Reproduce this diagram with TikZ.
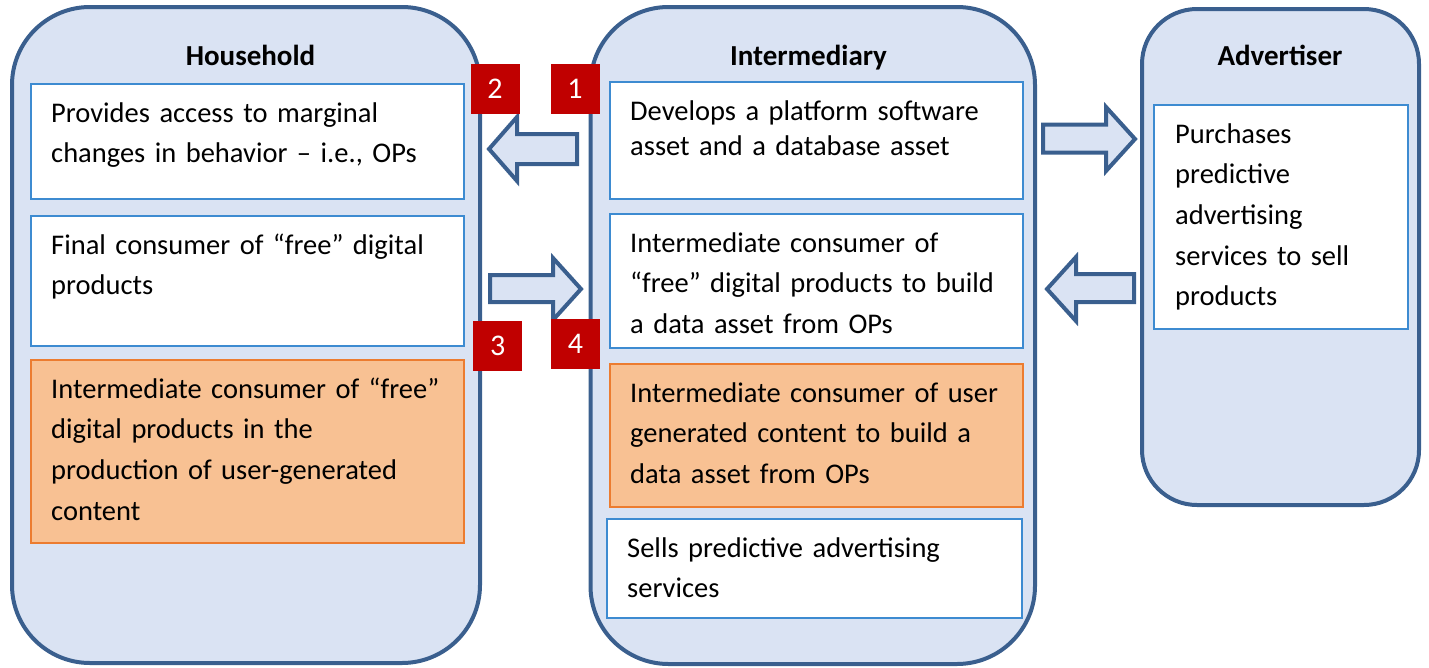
\documentclass[tikz,border=0pt]{standalone}
\usepackage{fontspec}
\setmainfont{Carlito}
\definecolor{contfill}{HTML}{DAE3F3}
\definecolor{contline}{HTML}{3A5F8E}
\definecolor{boxline}{HTML}{3D8BD1}
\definecolor{orfill}{HTML}{F8C193}
\definecolor{orline}{HTML}{EC7C30}
\definecolor{numred}{HTML}{C00000}
\begin{document}
\begin{tikzpicture}[x=1pt,y=-1pt,
  container/.style={draw=contline,line width=4pt,fill=contfill,inner sep=0pt,outer sep=0pt,anchor=north west},
  plainbox/.style={draw=boxline,line width=1.5pt,fill=white,inner sep=0pt,outer sep=0pt,anchor=north west},
  orangebox/.style={draw=orline,line width=1.5pt,fill=orfill,inner sep=0pt,outer sep=0pt,anchor=north west},
  boxtext/.style={anchor=base west,inner sep=0pt,text width=440pt,align=left,font=\fontsize{28.5}{40.7}\selectfont},
  tighttext/.style={boxtext,font=\fontsize{28.5}{35.4}\selectfont},
  titletext/.style={anchor=base,inner sep=0pt,font=\bfseries\fontsize{29}{35}\selectfont},
  numbox/.style={fill=numred,text=white,minimum width=49pt,minimum height=50pt,inner sep=0pt,font=\fontsize{30}{35}\selectfont},
  blockarrow/.style={draw=contline,fill=contfill,line width=4pt}
]
\useasboundingbox (0,0) rectangle (1429,667);

% containers
\node[container,rounded corners=78pt,minimum width=468pt,minimum height=656pt] (hh) at (12,7) {};
\node[container,rounded corners=78pt,minimum width=444.5pt,minimum height=657pt] (im) at (590.5,7) {};
\node[container,rounded corners=55pt,minimum width=277pt,minimum height=496pt] (ad) at (1142,9) {};

% titles
\node[titletext] (hht) at (250.5,65) {Household};
\node[titletext] (imt) at (808.5,65) {Intermediary};
\node[titletext] (adt) at (1280,65) {Advertiser};

% household boxes
\node[plainbox,minimum width=433pt,minimum height=115pt] (h1) at (31,84) {};
\node[plainbox,minimum width=433pt,minimum height=130pt] (h2) at (31,216) {};
\node[orangebox,minimum width=433pt,minimum height=183pt] (h3) at (31,360) {};
\node[boxtext] (h1t) at ([xshift=20pt,yshift=-38pt]h1.north west) {Provides access to marginal\\changes in behavior – i.e., OPs};
\node[boxtext] (h2t) at ([xshift=20pt,yshift=-38pt]h2.north west) {Final consumer of “free” digital\\products};
\node[boxtext] (h3t) at ([xshift=20pt,yshift=-38pt]h3.north west) {Intermediate consumer of “free”\\digital products in the\\production of user-generated\\content};

% intermediary boxes
\node[plainbox,minimum width=413pt,minimum height=117pt] (i1) at (610,82) {};
\node[plainbox,minimum width=413pt,minimum height=134pt] (i2) at (610,214) {};
\node[orangebox,minimum width=413pt,minimum height=143pt] (i3) at (610,364) {};
\node[plainbox,minimum width=415pt,minimum height=99pt] (i4) at (607,519) {};
\node[tighttext] (i1t) at ([xshift=20pt,yshift=-38pt]i1.north west) {Develops a platform software\\asset and a database asset};
\node[boxtext] (i2t) at ([xshift=20pt,yshift=-38pt]i2.north west) {Intermediate consumer of\\“free” digital products to build\\a data asset from OPs};
\node[boxtext] (i3t) at ([xshift=20pt,yshift=-38pt]i3.north west) {Intermediate consumer of user\\generated content to build a\\data asset from OPs};
\node[boxtext] (i4t) at ([xshift=20pt,yshift=-38pt]i4.north west) {Sells predictive advertising\\services};

% advertiser box
\node[plainbox,minimum width=254pt,minimum height=224pt] (a1) at (1154,105) {};
\node[boxtext] (a1t) at ([xshift=21pt,yshift=-38pt]a1.north west) {Purchases\\predictive\\advertising\\services to sell\\products};

% block arrows
\draw[blockarrow] (489,149) -- (517,117) -- (517,134) -- (577,134) -- (577,164) -- (517,164) -- (517,181) -- cycle;
\draw[blockarrow] (490,275) -- (553,275) -- (553,258) -- (581,289) -- (553,320) -- (553,302) -- (490,302) -- cycle;
\draw[blockarrow] (1043,124.5) -- (1106,124.5) -- (1106,107) -- (1135,139) -- (1106,171) -- (1106,152.5) -- (1043,152.5) -- cycle;
\draw[blockarrow] (1047,289) -- (1076,257) -- (1076,274) -- (1134,274) -- (1134,302) -- (1076,302) -- (1076,321) -- cycle;

% number labels
\node[numbox] (n2) at (495,89) {2};
\node[numbox] (n1) at (575,89) {1};
\node[numbox] (n3) at (497.8,346.2) {3};
\node[numbox] (n4) at (575.5,344.2) {4};
\end{tikzpicture}
\end{document}
